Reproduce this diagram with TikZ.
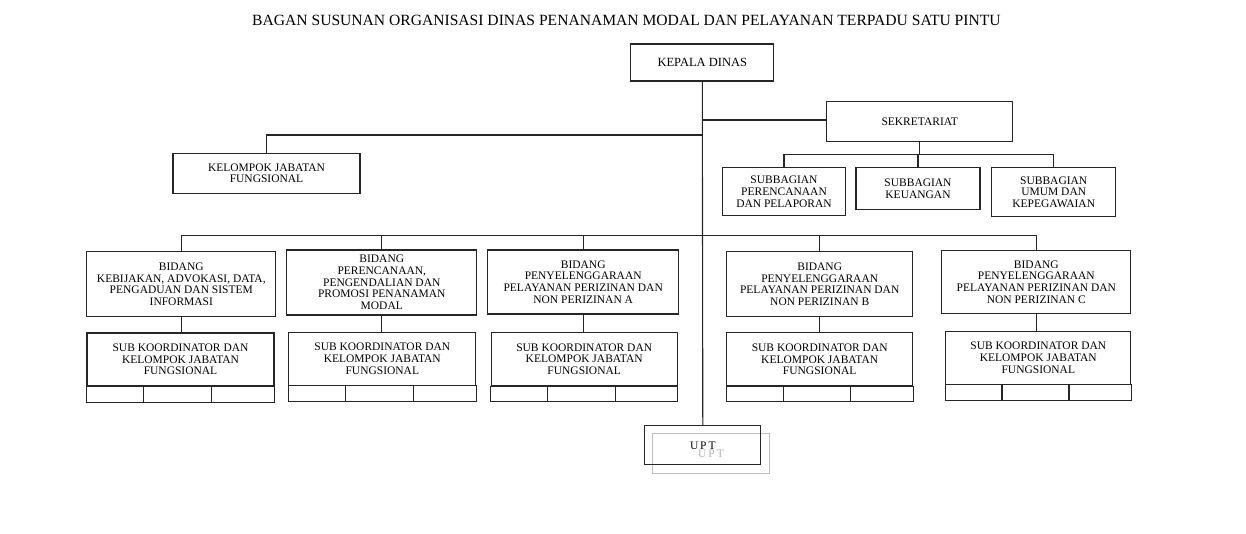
\documentclass[tikz,border=0pt]{standalone}
\usepackage{fontspec}
\setmainfont{Liberation Serif}
\usetikzlibrary{calc}
\tikzstyle{ln}=[draw=black!85,line width=1.1pt]
\tikzstyle{box}=[ln,align=center,inner sep=1pt,text=black,font=\fontsize{11.5}{11.7}\selectfont]
\tikzstyle{ghost}=[draw=black!25,line width=1pt,text=black!30,align=center,font=\fontsize{11.5}{11.7}\selectfont]

\begin{document}
\begin{tikzpicture}[x=1pt,y=-1pt]
	\useasboundingbox (0,0) rectangle (1246,533);
	\node (title) at (626.5,20) {\fontsize{15.6}{17}\selectfont BAGAN SUSUNAN ORGANISASI DINAS PENANAMAN MODAL DAN PELAYANAN TERPADU SATU PINTU};
	% pimpinan dan sekretariat
	\node[box,minimum width=143pt,minimum height=37pt,font=\fontsize{12.5}{13}\selectfont] (kepala) at (702.3,62.5) {KEPALA DINAS};
	\node[box,minimum width=186pt,minimum height=40pt] (sekr) at (919.7,121.7) {SEKRETARIAT};
	\node[box,minimum width=187pt,minimum height=40pt] (kjf) at (266.5,173.2) {KELOMPOK JABATAN\\FUNGSIONAL};
	\node[box,minimum width=123pt,minimum height=48pt] (sb1) at (784,191.7) {SUBBAGIAN\\PERENCANAAN\\DAN PELAPORAN};
	\node[box,minimum width=124pt,minimum height=42pt] (sb2) at (918,188.5) {SUBBAGIAN\\KEUANGAN};
	\node[box,minimum width=124pt,minimum height=49pt] (sb3) at (1053.7,192.2) {SUBBAGIAN\\UMUM DAN\\KEPEGAWAIAN};
	% bidang
	\node[box,minimum width=189pt,minimum height=65pt] (b1) at (181.3,284.2) {BIDANG\\KEBIJAKAN, ADVOKASI, DATA,\\PENGADUAN DAN SISTEM\\INFORMASI};
	\node[box,minimum width=190pt,minimum height=65pt] (b2) at (381.8,282.5) {BIDANG\\PERENCANAAN,\\PENGENDALIAN DAN\\PROMOSI PENANAMAN\\MODAL};
	\node[box,minimum width=191pt,minimum height=64pt] (b3) at (583.2,282) {BIDANG\\PENYELENGGARAAN\\PELAYANAN PERIZINAN DAN\\NON PERIZINAN A};
	\node[box,minimum width=186pt,minimum height=65pt] (b4) at (819.7,284.2) {BIDANG\\PENYELENGGARAAN\\PELAYANAN PERIZINAN DAN\\NON PERIZINAN B};
	\node[box,minimum width=189pt,minimum height=63pt] (b5) at (1036.3,282) {BIDANG\\PENYELENGGARAAN\\PELAYANAN PERIZINAN DAN\\NON PERIZINAN C};
	% sub koordinator
	\node[box,minimum width=187pt,minimum height=53pt] (s1) at (180.5,359.5) {SUB KOORDINATOR DAN\\KELOMPOK JABATAN\\FUNGSIONAL};
	\node[box,minimum width=187pt,minimum height=53pt] (s2) at (382.3,358.8) {SUB KOORDINATOR DAN\\KELOMPOK JABATAN\\FUNGSIONAL};
	\node[box,minimum width=186pt,minimum height=53pt] (s3) at (584.2,359.2) {SUB KOORDINATOR DAN\\KELOMPOK JABATAN\\FUNGSIONAL};
	\node[box,minimum width=186pt,minimum height=53pt] (s4) at (819.7,359.3) {SUB KOORDINATOR DAN\\KELOMPOK JABATAN\\FUNGSIONAL};
	\node[box,minimum width=185pt,minimum height=53pt] (s5) at (1038.3,357.7) {SUB KOORDINATOR DAN\\KELOMPOK JABATAN\\FUNGSIONAL};
	\foreach \s in {s1,s2,s3,s4,s5}{
		\draw[ln] (\s.south west) rectangle ([yshift=-15.5pt]\s.south east);
		\draw[ln] ($(\s.south west)!.305!(\s.south east)$) -- ++(0,15.5)
			($(\s.south west)!.665!(\s.south east)$) -- ++(0,15.5);
	}
	% upt
	\node[ghost,minimum width=117pt,minimum height=40pt] (uptb) at (711,453.3) {U\,P\,T};
	\node[box,minimum width=116pt,minimum height=39pt] (upt) at (702.8,445.3) {U\,P\,T};
	% garis
	\coordinate (jsek) at (702.3,120);
	\coordinate (jkjf) at (702.3,135);
	\coordinate (sbus) at (919.7,154.3);
	\coordinate (bbus) at (702.3,235.3);
	\draw[ln] (kepala.south) -- (upt.north);
	\draw[ln] (jsek) -- (sekr.west |- jsek);
	\draw[ln] (jkjf) -| (kjf.north);
	\draw[ln] (sekr.south) -- (sbus);
	\draw[ln] (sb1.north) |- (sb3.north |- sbus) -- (sb3.north);
	\draw[ln] (sb2.north |- sbus) -- (sb2.north);
	\draw[ln] (b1.north) |- (b5.north |- bbus) -- (b5.north);
	\draw[ln] (b2.north |- bbus) -- (b2.north);
	\draw[ln] (b3.north |- bbus) -- (b3.north);
	\draw[ln] (b4.north |- bbus) -- (b4.north);
	\draw[ln] (b1.south) -- (b1.south |- s1.north);
	\draw[ln] (b2.south) -- (b2.south |- s2.north);
	\draw[ln] (b3.south) -- (b3.south |- s3.north);
	\draw[ln] (b4.south) -- (b4.south |- s4.north);
	\draw[ln] (b5.south) -- (b5.south |- s5.north);
\end{tikzpicture}
\end{document}
